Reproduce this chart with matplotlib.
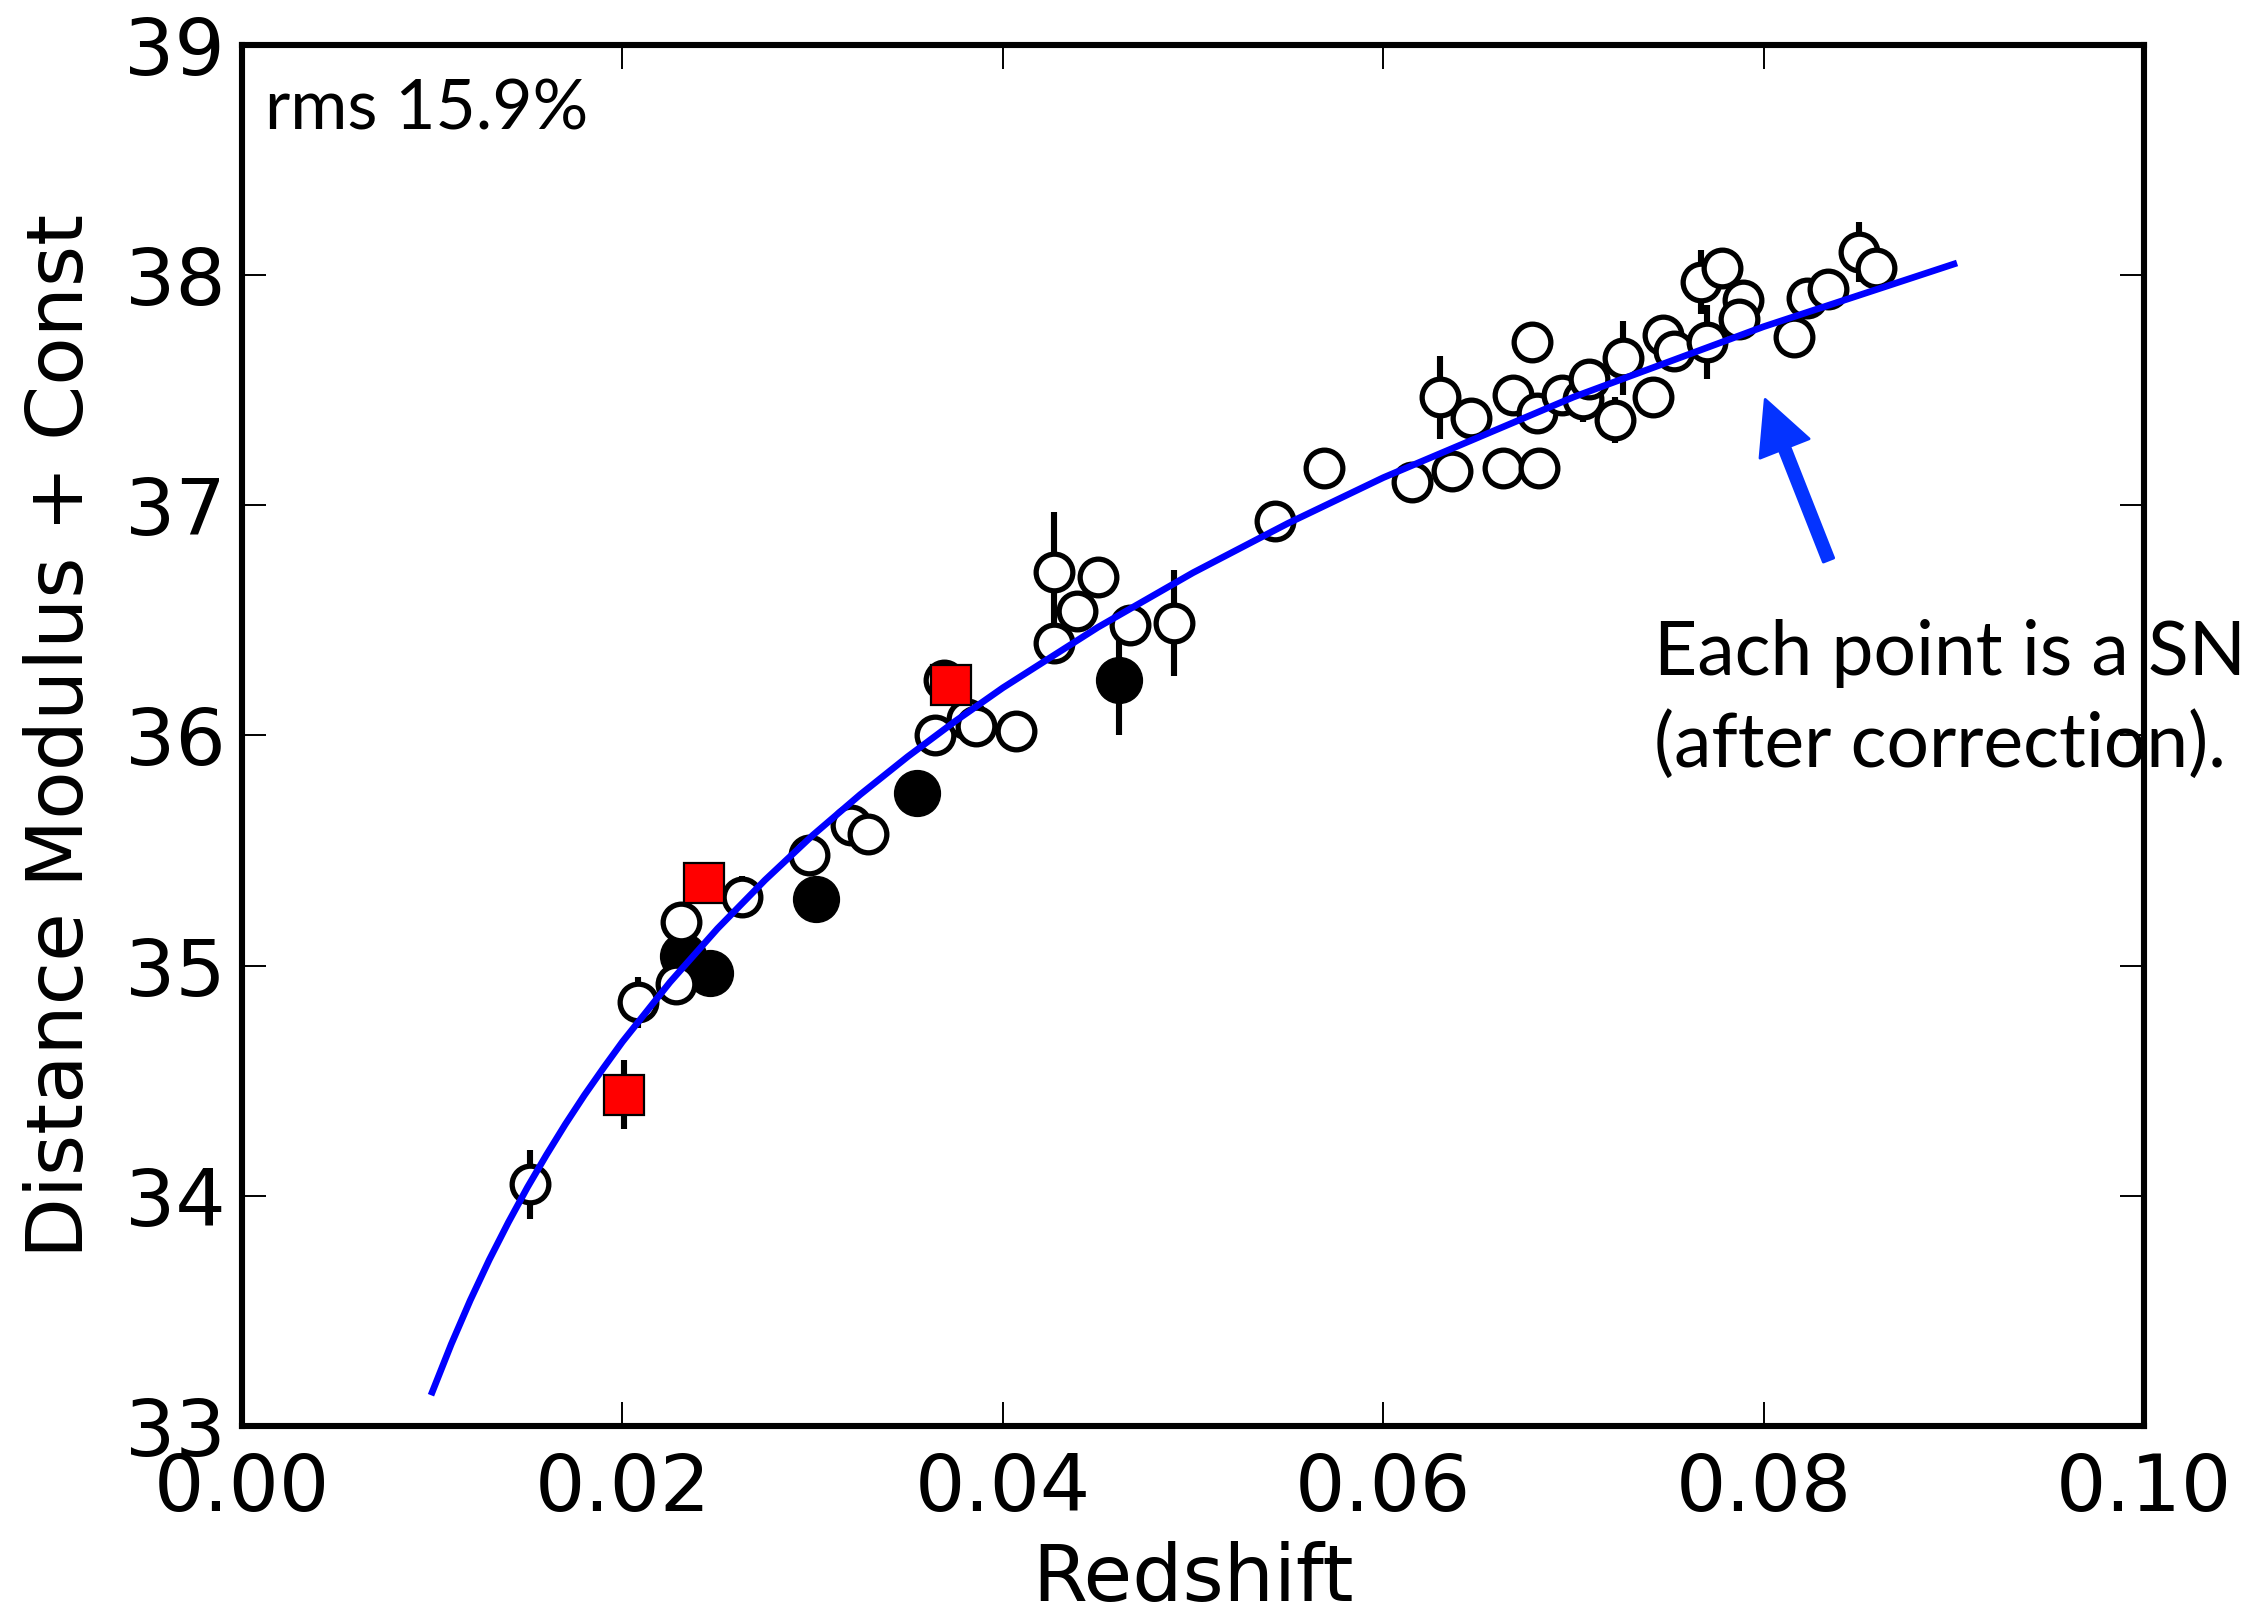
import matplotlib
matplotlib.use("Agg")
import matplotlib.pyplot as plt

# ---- data ----
open_z = [0.01515, 0.0208, 0.0228, 0.0231, 0.0263, 0.0298, 0.0320, 0.0329,
          0.03645, 0.0381, 0.0386, 0.0407, 0.0427, 0.0427, 0.0439, 0.0450,
          0.0467, 0.0490, 0.0543, 0.0569, 0.0615, 0.0636, 0.0663, 0.0682,
          0.0630, 0.0646, 0.0668, 0.0678, 0.0681, 0.0694, 0.0705, 0.0708,
          0.0726, 0.0722, 0.0742, 0.0747, 0.0753, 0.0767, 0.0770, 0.0778,
          0.0789, 0.0787, 0.0816, 0.0823, 0.0834, 0.0850, 0.0859, 0.0369]
open_mu = [34.05, 34.84, 34.92, 35.19, 35.30, 35.48, 35.61, 35.57,
           36.00, 36.07, 36.04, 36.02, 36.71, 36.40, 36.54, 36.69,
           36.48, 36.49, 36.93, 37.16, 37.10, 37.15, 37.16, 37.16,
           37.47, 37.38, 37.48, 37.71, 37.40, 37.48, 37.46, 37.55,
           37.64, 37.37, 37.47, 37.74, 37.67, 37.97, 37.71, 38.03,
           37.89, 37.81, 37.73, 37.90, 37.94, 38.10, 38.03, 36.24]
open_err = [0.15, 0.11, 0.09, 0.06, 0.09, 0.05, 0.05, 0.05,
            0.05, 0.05, 0.05, 0.05, 0.26, 0.08, 0.05, 0.05,
            0.06, 0.23, 0.05, 0.05, 0.05, 0.05, 0.05, 0.05,
            0.18, 0.05, 0.05, 0.05, 0.05, 0.05, 0.10, 0.05,
            0.16, 0.10, 0.05, 0.05, 0.05, 0.14, 0.16, 0.05,
            0.05, 0.05, 0.05, 0.05, 0.05, 0.13, 0.05, 0.05]

filled_z = [0.0232, 0.0246, 0.0302, 0.0355, 0.0461]
filled_mu = [35.04, 34.97, 35.29, 35.75, 36.24]
filled_err = [0.06, 0.06, 0.06, 0.06, 0.24]

red_z = [0.0201, 0.0243, 0.0373]
red_mu = [34.44, 35.36, 36.22]
red_err = [0.15, 0.08, 0.05]

curve_z = [0.010, 0.011, 0.012, 0.013, 0.014, 0.015, 0.016, 0.017, 0.018,
           0.019, 0.020, 0.0225, 0.025, 0.0275, 0.030, 0.0325, 0.035, 0.0375,
           0.040, 0.045, 0.050, 0.055, 0.060, 0.070, 0.080, 0.090]
curve_mu = [33.147, 33.355, 33.546, 33.722, 33.884, 34.036, 34.177, 34.311,
            34.437, 34.555, 34.669, 34.928, 35.161, 35.372, 35.566, 35.743,
            35.908, 36.062, 36.207, 36.470, 36.707, 36.922, 37.120, 37.470,
            37.776, 38.048]

x_ticks = [0.00, 0.02, 0.04, 0.06, 0.08, 0.10]
y_ticks = [33, 34, 35, 36, 37, 38, 39]

rms_text = "rms 15.9%"
note_text = "Each point is a SN\n(after correction)."
arrow_tail = (0.08341, 36.762)
arrow_head = (0.08008, 37.460)
note_pos = (0.07424, 35.865)   # baseline of the last line

# ---- figure ----
fig = plt.figure(figsize=(11.33, 8.08), dpi=200)
ax = fig.add_axes([0.1068, 0.1176, 0.8394, 0.8546])

ax.errorbar(open_z + filled_z + red_z, open_mu + filled_mu + red_mu,
            yerr=open_err + filled_err + red_err, fmt='none', ecolor='black',
            elinewidth=2.2, capsize=0, zorder=2)
ax.plot(filled_z, filled_mu, linestyle='none', marker='o', ms=16.5,
        mfc='black', mec='black', mew=0.5, zorder=3)
ax.plot(open_z, open_mu, linestyle='none', marker='o', ms=13.2,
        mfc='white', mec='black', mew=1.9, zorder=4)
ax.plot(red_z, red_mu, linestyle='none', marker='s', ms=14.3,
        mfc='#ff0000', mec='black', mew=0.8, zorder=5)
ax.plot(curve_z, curve_mu, color='#0000ff', lw=2.4, zorder=6,
        solid_joinstyle='round')

ax.set_xlim(0.0, 0.10)
ax.set_ylim(33, 39)
ax.set_xticks(x_ticks)
ax.set_xticklabels([f"{t:.2f}" for t in x_ticks])
ax.set_yticks(y_ticks)
ax.set_yticklabels([str(t) for t in y_ticks])

ax.tick_params(direction='in', top=True, right=True, length=8.6, width=0.7,
               labelsize=28.5, colors='black')
ax.tick_params(axis='x', pad=9)
ax.tick_params(axis='y', pad=6)
for s in ax.spines.values():
    s.set_linewidth(2.2)

ax.set_xlabel("Redshift", fontsize=28.5, labelpad=5, family='DejaVu Sans')
ax.set_ylabel("Distance Modulus + Const", fontsize=28.5, labelpad=9,
              family='DejaVu Sans')

ax.text(0.0121, 0.9385, rms_text, transform=ax.transAxes, fontsize=25,
        family=['Lato', 'DejaVu Sans'], ha='left', va='baseline')

ax.text(note_pos[0], note_pos[1], note_text, fontsize=27,
        family=['Lato', 'DejaVu Sans'], ha='left', va='baseline',
        linespacing=1.38, clip_on=False, zorder=1)

ax.annotate('', xy=arrow_head, xytext=arrow_tail,
            arrowprops=dict(width=4, headwidth=19, headlength=19,
                            facecolor='#0433ff', edgecolor='#0433ff', shrink=0),
            zorder=7)

fig.savefig("out.png", dpi=200)
